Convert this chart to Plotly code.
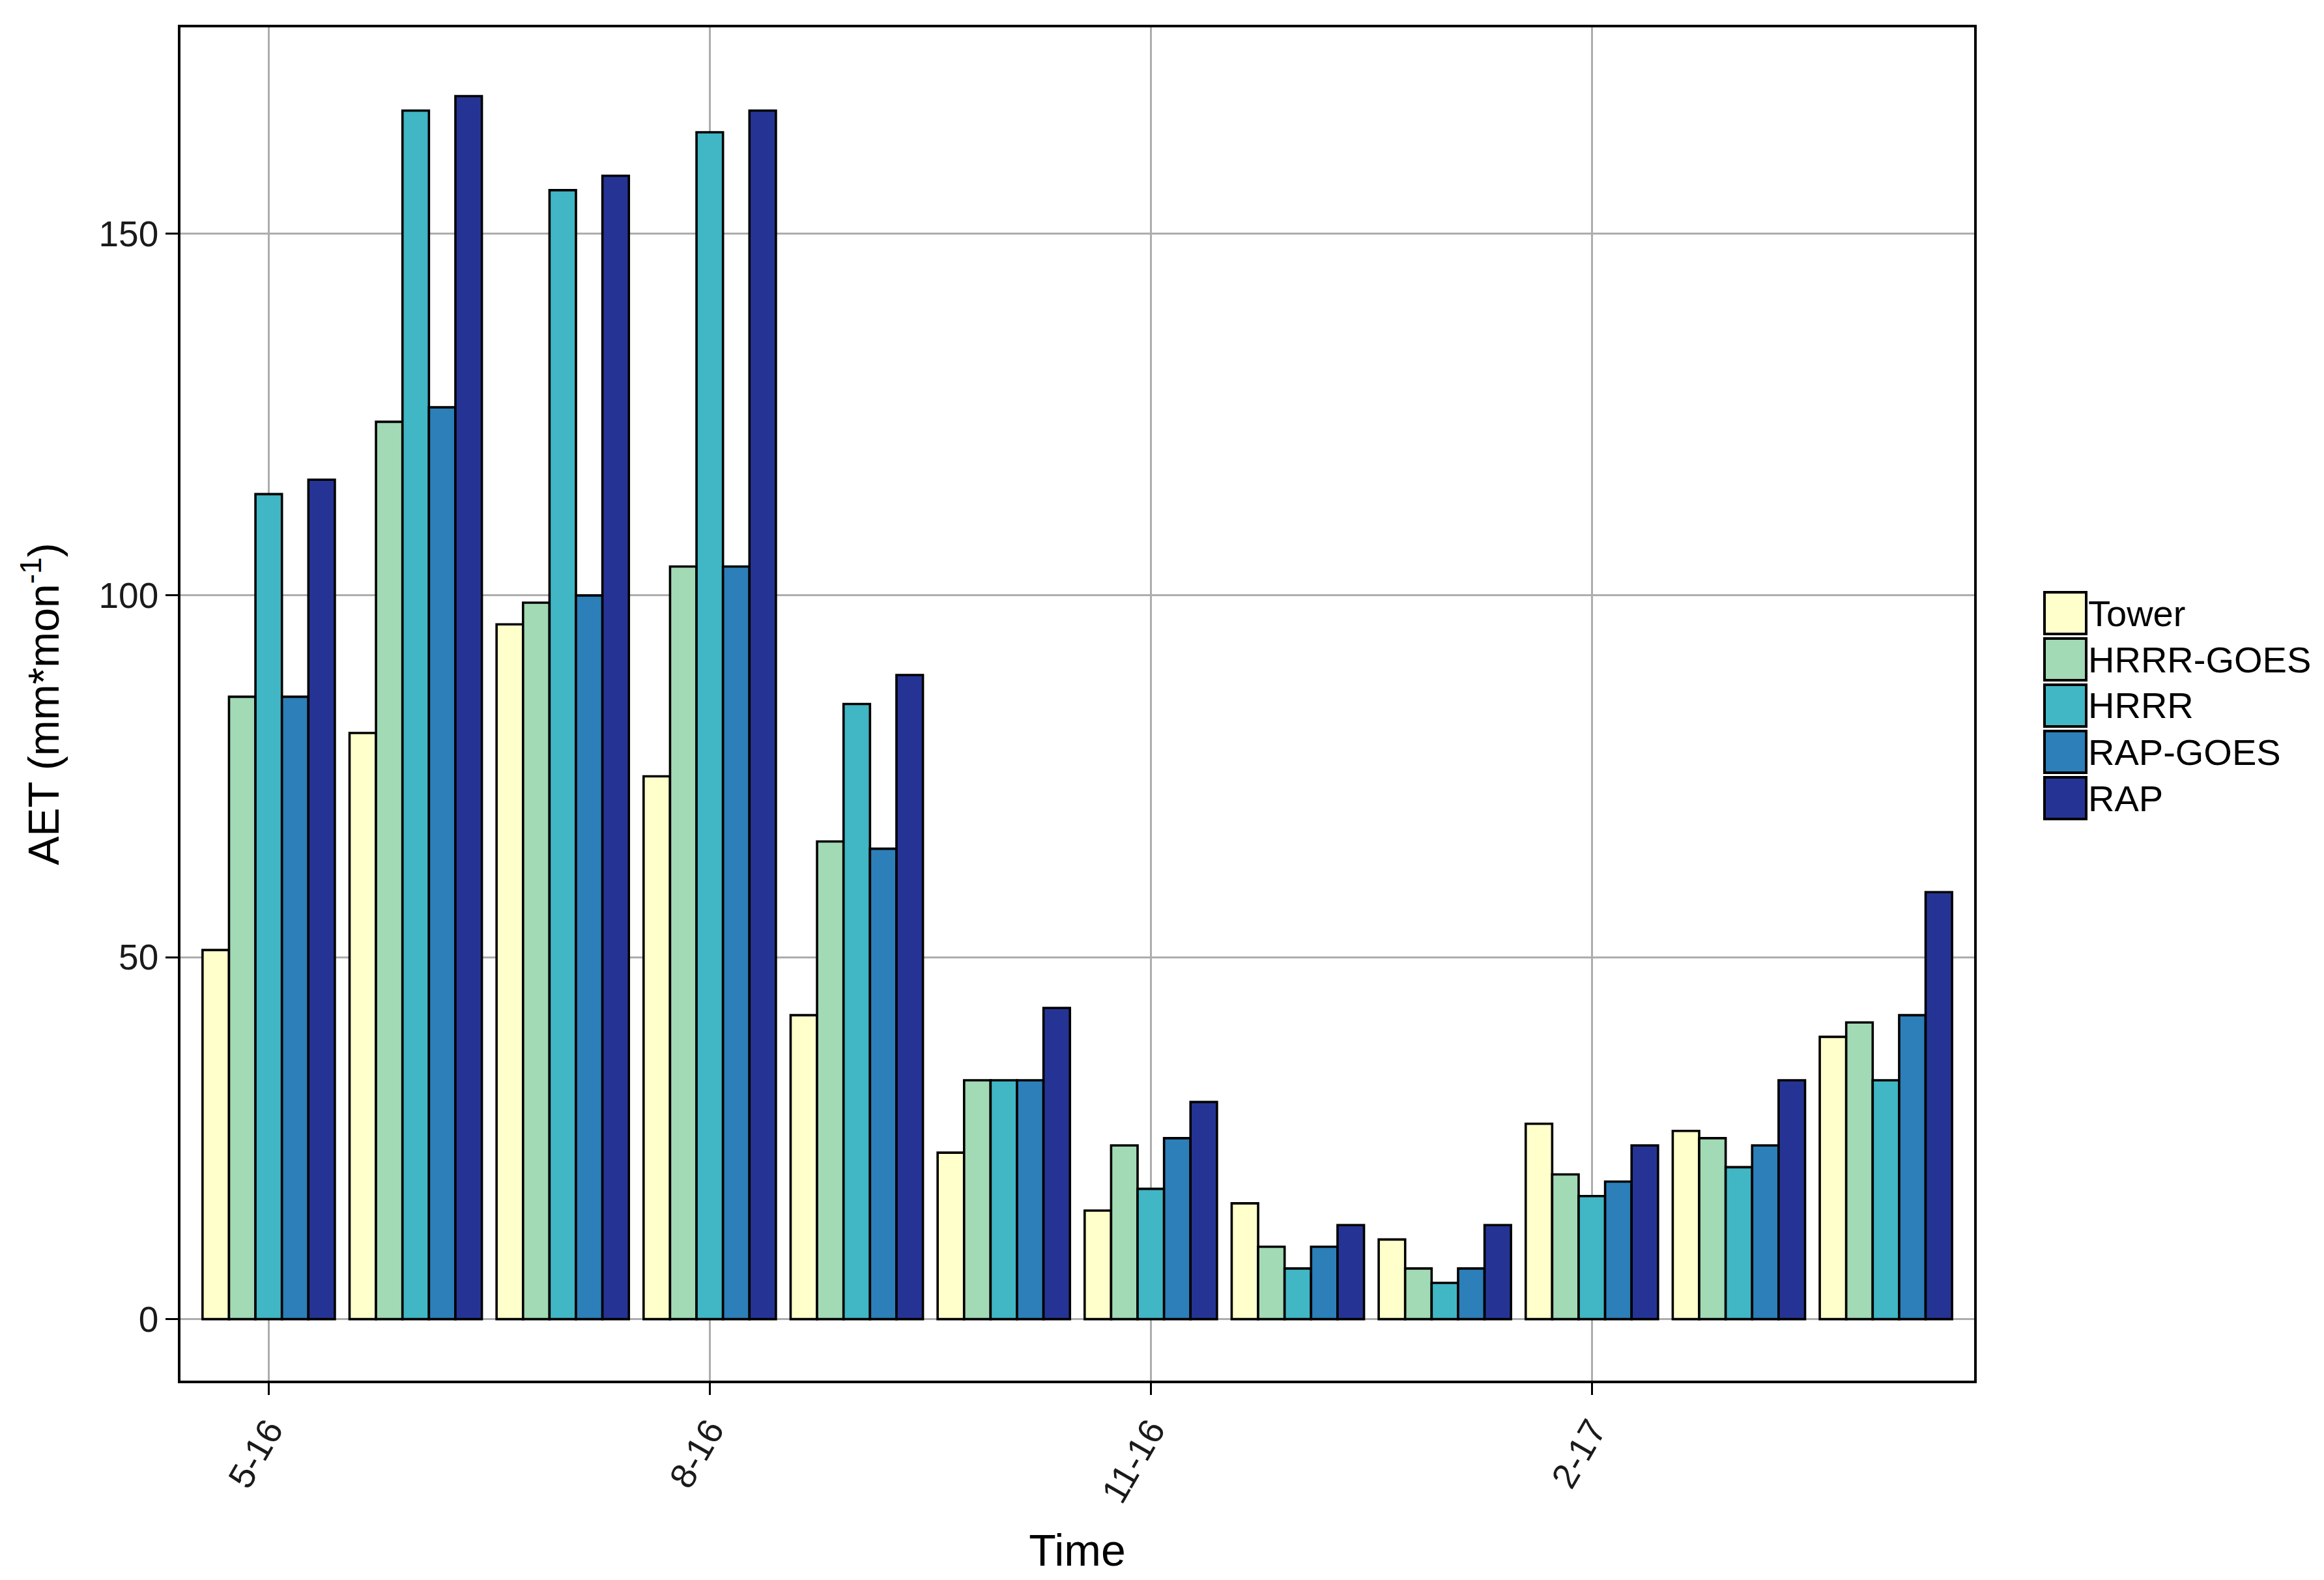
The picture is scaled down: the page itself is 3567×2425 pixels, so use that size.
import plotly.graph_objects as go

# ---- data ----
months = ["5-16", "6-16", "7-16", "8-16", "9-16", "10-16",
          "11-16", "12-16", "1-17", "2-17", "3-17", "4-17"]
tick_months = ["5-16", "8-16", "11-16", "2-17"]

series_names = ["Tower", "HRRR-GOES", "HRRR", "RAP-GOES", "RAP"]
tower     = [51, 81, 96, 75, 42, 23, 15, 16, 11, 27, 26, 39]
hrrr_goes = [86, 124, 99, 104, 66, 33, 24, 10, 7, 20, 25, 41]
hrrr      = [114, 167, 156, 164, 85, 33, 18, 7, 5, 17, 21, 33]
rap_goes  = [86, 126, 100, 104, 65, 33, 25, 10, 7, 19, 24, 42]
rap       = [116, 169, 158, 167, 89, 43, 30, 13, 13, 24, 33, 59]
series_values = [tower, hrrr_goes, hrrr, rap_goes, rap]
colors = ["#FFFFCC", "#A1DAB4", "#41B6C4", "#2C7FB8", "#253494"]

# ---- layout geometry (screen pixels of the 3567x2425 window) ----
WIN_W, WIN_H = 3567, 2425
OFF = 8                      # default body margin of the html page
W, H = WIN_W - OFF, WIN_H - OFF
PL, PR, PT, PB = 277, 3030, 42, 2119   # plot area on screen
FONT = "Liberation Sans, Arial, sans-serif"

fig = go.Figure()
for name, vals, col in zip(series_names, series_values, colors):
    fig.add_trace(go.Bar(
        x=months, y=vals, name=name,
        marker=dict(color=col, line=dict(color="black", width=3.6)),
        showlegend=False,
    ))

# custom legend with large key boxes (ggplot style)
def px_to_paper_x(px):
    return (px - PL) / (PR - PL)

def px_to_paper_y(py):
    return (PB - py) / (PB - PT)

shapes = []
annotations = []
box_left, box_size, row_top0, row_step = 3138, 64, 909, 71
for i, (name, col) in enumerate(zip(series_names, colors)):
    top = row_top0 + i * row_step
    shapes.append(dict(
        type="rect", xref="paper", yref="paper",
        x0=px_to_paper_x(box_left), x1=px_to_paper_x(box_left + box_size),
        y0=px_to_paper_y(top + box_size), y1=px_to_paper_y(top),
        fillcolor=col, line=dict(color="black", width=4),
    ))
    annotations.append(dict(
        xref="paper", yref="paper",
        x=px_to_paper_x(box_left + box_size + 1),
        y=px_to_paper_y(top + box_size / 2),
        text=name, showarrow=False, xanchor="left", yanchor="middle",
        font=dict(family=FONT, size=56, color="black"),
    ))

fig.update_layout(
    width=W, height=H,
    margin=dict(l=PL - OFF, r=W - (PR - OFF), t=PT - OFF, b=H - (PB - OFF),
                autoexpand=False),
    paper_bgcolor="white", plot_bgcolor="white",
    barmode="group", bargap=0.1, bargroupgap=0,
    font=dict(family=FONT, color="black"),
    shapes=shapes, annotations=annotations,
    xaxis=dict(
        type="category", categoryorder="array", categoryarray=months,
        range=[-0.6, 11.6],
        tickmode="array", tickvals=tick_months, ticktext=tick_months,
        tickangle=-60,
        tickfont=dict(family=FONT, size=55, color="#1A1A1A"),
        ticks="outside", ticklen=18, tickwidth=2.5, tickcolor="black",
        showgrid=True, gridcolor="#ADADAD", gridwidth=3,
        showline=True, linecolor="black", linewidth=3.5, mirror=True,
        zeroline=False,
        title=dict(text="Time", font=dict(family=FONT, size=68, color="black"),
                   standoff=40),
    ),
    yaxis=dict(
        range=[-8.5, 178.5],
        tickmode="array", tickvals=[0, 50, 100, 150],
        tickfont=dict(family=FONT, size=55, color="#1A1A1A"),
        ticks="outside", ticklen=19, tickwidth=2.5, tickcolor="black",
        showgrid=True, gridcolor="#ADADAD", gridwidth=3,
        showline=True, linecolor="black", linewidth=3.5, mirror=True,
        zeroline=False,
        title=dict(text="AET (mm*mon<sup>-1</sup>)",
                   font=dict(family=FONT, size=66, color="black"),
                   standoff=40),
    ),
)

fig.write_html("out.html")
